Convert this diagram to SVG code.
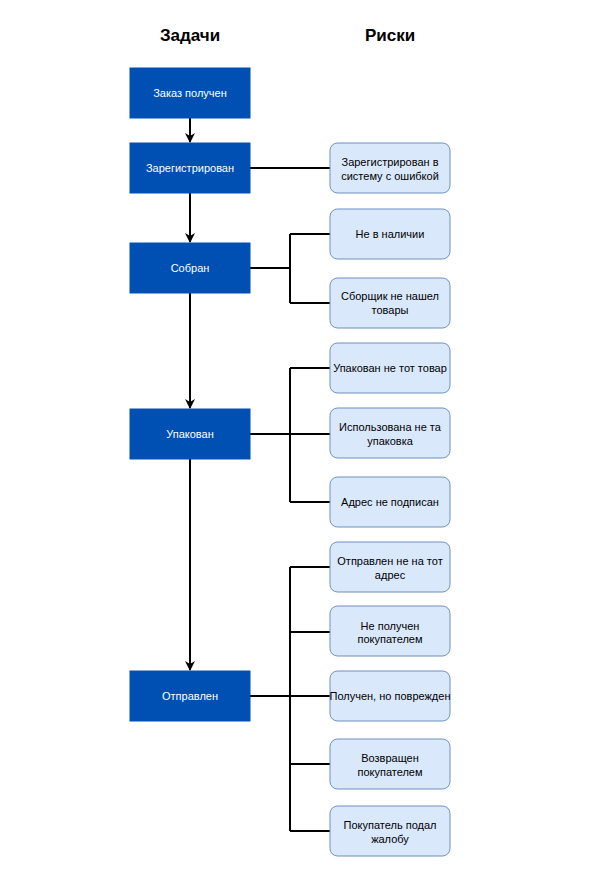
<svg xmlns="http://www.w3.org/2000/svg" width="600" height="886" viewBox="0 0 600 886">
<style>
.task{fill:#0050B3;stroke:#0050B3;stroke-width:1}
.risk{fill:#dae8fc;stroke:#6c8ebf;stroke-width:1}
.tt{font-family:"Liberation Sans",Arial,sans-serif;font-size:11px;fill:#ffffff;text-anchor:middle;dominant-baseline:central}
.rt{font-family:"Liberation Sans",Arial,sans-serif;font-size:11px;fill:#000000;text-anchor:middle;dominant-baseline:central}
.hd{font-family:"Liberation Sans",Arial,sans-serif;font-size:17px;font-weight:bold;fill:#000000;text-anchor:middle;dominant-baseline:central}
.ln{fill:none;stroke:#000000;stroke-width:2}
</style>
<defs>
<marker id="arr" markerWidth="10" markerHeight="10" refX="9" refY="5" orient="auto" markerUnits="userSpaceOnUse" viewBox="0 0 10 10">
<path d="M0,0 L10,5 L0,10 L3,5 Z" fill="#000000"/>
</marker>
</defs>
<rect width="600" height="886" fill="#ffffff"/>
<g id="headers">
<text class="hd" x="190" y="35">Задачи</text>
<text class="hd" x="390" y="35">Риски</text>
</g>
<g id="connectors">
<line class="ln" x1="190" y1="118" x2="190" y2="142" marker-end="url(#arr)"/>
<line class="ln" x1="190" y1="193" x2="190" y2="242" marker-end="url(#arr)"/>
<line class="ln" x1="190" y1="293" x2="190" y2="408" marker-end="url(#arr)"/>
<line class="ln" x1="190" y1="459" x2="190" y2="670" marker-end="url(#arr)"/>
<line class="ln" x1="250" y1="168" x2="330" y2="168"/>
<path class="ln" d="M250,268 H290 M290,234 V303 M290,234 H330 M290,303 H330"/>
<path class="ln" d="M250,434 H330 M290,368 V502 M290,368 H330 M290,502 H330"/>
<path class="ln" d="M250,696 H330 M290,567 V831 M290,567 H330 M290,632 H330 M290,764 H330 M290,831 H330"/>
</g>
<g id="t1"><rect class="task" x="130" y="68" width="120" height="50"/><text class="tt" x="190" y="93">Заказ получен</text></g>
<g id="t2"><rect class="task" x="130" y="143" width="120" height="50"/><text class="tt" x="190" y="168">Зарегистрирован</text></g>
<g id="t3"><rect class="task" x="130" y="243" width="120" height="50"/><text class="tt" x="190" y="268">Собран</text></g>
<g id="t4"><rect class="task" x="130" y="409" width="120" height="50"/><text class="tt" x="190" y="434">Упакован</text></g>
<g id="t5"><rect class="task" x="130" y="671" width="120" height="50"/><text class="tt" x="190" y="696">Отправлен</text></g>
<g id="r1"><rect class="risk" x="330" y="143" width="120" height="50" rx="7.5"/><text class="rt" x="390" y="162">Зарегистрирован в</text><text class="rt" x="390" y="176">систему с ошибкой</text></g>
<g id="r2"><rect class="risk" x="330" y="209" width="120" height="50" rx="7.5"/><text class="rt" x="390" y="234">Не в наличии</text></g>
<g id="r3"><rect class="risk" x="330" y="278" width="120" height="50" rx="7.5"/><text class="rt" x="390" y="296">Сборщик не нашел</text><text class="rt" x="390" y="310">товары</text></g>
<g id="r4"><rect class="risk" x="330" y="343" width="120" height="50" rx="7.5"/><text class="rt" x="390" y="368">Упакован не тот товар</text></g>
<g id="r5"><rect class="risk" x="330" y="408" width="120" height="50" rx="7.5"/><text class="rt" x="390" y="427">Использована не та</text><text class="rt" x="390" y="441">упаковка</text></g>
<g id="r6"><rect class="risk" x="330" y="477" width="120" height="50" rx="7.5"/><text class="rt" x="390" y="502">Адрес не подписан</text></g>
<g id="r7"><rect class="risk" x="330" y="542" width="120" height="50" rx="7.5"/><text class="rt" x="390" y="561">Отправлен не на тот</text><text class="rt" x="390" y="575">адрес</text></g>
<g id="r8"><rect class="risk" x="330" y="606" width="120" height="50" rx="7.5"/><text class="rt" x="390" y="626">Не получен</text><text class="rt" x="390" y="639">покупателем</text></g>
<g id="r9"><rect class="risk" x="330" y="671" width="120" height="50" rx="7.5"/><text class="rt" x="390" y="696">Получен, но поврежден</text></g>
<g id="r10"><rect class="risk" x="330" y="739" width="120" height="50" rx="7.5"/><text class="rt" x="390" y="758">Возвращен</text><text class="rt" x="390" y="772">покупателем</text></g>
<g id="r11"><rect class="risk" x="330" y="806" width="120" height="50" rx="7.5"/><text class="rt" x="390" y="825">Покупатель подал</text><text class="rt" x="390" y="839">жалобу</text></g>
</svg>
